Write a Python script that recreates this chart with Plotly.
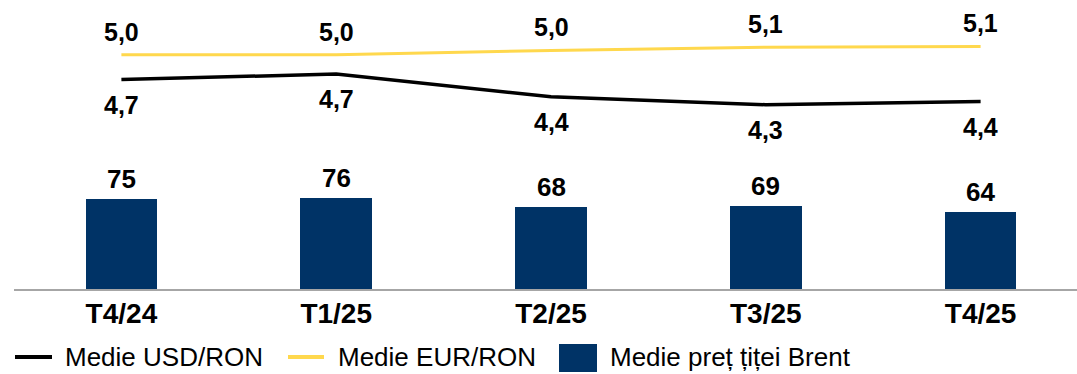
import plotly.graph_objects as go

# Quarterly averages
quarters = ["T4/24", "T1/25", "T2/25", "T3/25", "T4/25"]
brent_price = [75, 76, 68, 69, 64]
usd_ron = [4.66, 4.73, 4.44, 4.34, 4.38]
eur_ron = [4.975, 4.976, 5.03, 5.07, 5.08]
series_names = ["Medie USD/RON", "Medie EUR/RON", "Medie preț țiței Brent"]

W, H = 1077, 374
ML, MR, MT, MB = 14, 0, 0, 85
PW, PH = W - ML - MR, H - MT - MB

FONT = "Liberation Sans, Arial, sans-serif"
NAVY = "#003366"
YELLOW = "#FFD84D"
BLACK = "#000000"


def fmt(v, nd):
    return f"{v:.{nd}f}".replace(".", ",")


def px_x(x):
    return (x - ML) / PW


def px_y(y):
    return (H - MB - y) / PH


fig = go.Figure()

fig.add_trace(go.Bar(
    x=quarters, y=brent_price, name=series_names[2],
    marker=dict(color=NAVY, line=dict(width=0)),
    width=0.334, yaxis="y", showlegend=False,
))
fig.add_trace(go.Scatter(
    x=quarters, y=usd_ron, name=series_names[0], mode="lines",
    line=dict(color=BLACK, width=3.5), yaxis="y2", showlegend=False,
))
fig.add_trace(go.Scatter(
    x=quarters, y=eur_ron, name=series_names[1], mode="lines",
    line=dict(color=YELLOW, width=3), yaxis="y2", showlegend=False,
))

annotations = []
for q, v in zip(quarters, brent_price):
    annotations.append(dict(x=q, y=v, xref="x", yref="y", text=f"<b>{v}</b>",
                            showarrow=False, yanchor="middle", yshift=20,
                            font=dict(family=FONT, size=26, color="#000")))
for q, v in zip(quarters, eur_ron):
    annotations.append(dict(x=q, y=v, xref="x", yref="y2", text=f"<b>{fmt(v, 1)}</b>",
                            showarrow=False, yanchor="middle", yshift=23,
                            font=dict(family=FONT, size=25, color="#000")))
for q, v in zip(quarters, usd_ron):
    annotations.append(dict(x=q, y=v, xref="x", yref="y2", text=f"<b>{fmt(v, 1)}</b>",
                            showarrow=False, yanchor="middle", yshift=-25,
                            font=dict(family=FONT, size=25, color="#000")))

# Legend row
shapes = []
leg_y = 357
shapes.append(dict(type="line", xref="paper", yref="paper",
                   x0=px_x(15), x1=px_x(52), y0=px_y(leg_y), y1=px_y(leg_y),
                   line=dict(color=BLACK, width=4)))
shapes.append(dict(type="line", xref="paper", yref="paper",
                   x0=px_x(288), x1=px_x(324), y0=px_y(leg_y), y1=px_y(leg_y),
                   line=dict(color=YELLOW, width=4)))
shapes.append(dict(type="rect", xref="paper", yref="paper",
                   x0=px_x(559), x1=px_x(597), y0=px_y(372), y1=px_y(344),
                   fillcolor=NAVY, line=dict(width=0)))
for name, x in zip(series_names, [63, 336, 608]):
    annotations.append(dict(x=px_x(x), y=px_y(leg_y), xref="paper", yref="paper",
                            text=name, showarrow=False, xanchor="left", yanchor="middle",
                            font=dict(family=FONT, size=26, color="#000")))

fig.update_layout(
    width=W, height=H,
    margin=dict(l=ML, r=MR, t=MT, b=MB, pad=0),
    paper_bgcolor="white", plot_bgcolor="white",
    showlegend=False,
    bargap=0,
    xaxis=dict(
        type="category", range=[-0.5, -0.5 + PW / 214.8],
        showline=True, linecolor="#A6A6A6", linewidth=2,
        showgrid=False, zeroline=False, ticks="",
        tickfont=dict(family=FONT, size=28, color="#000"),
        tickvals=quarters, ticktext=[f"<b>{q}</b>" for q in quarters],
        ticklabelstandoff=-2,
    ),
    yaxis=dict(range=[0, PH / 1.2], visible=False, showgrid=False, zeroline=False),
    yaxis2=dict(range=[2.0, 5.67], overlaying="y", side="right",
                visible=False, showgrid=False, zeroline=False),
    annotations=annotations,
    shapes=shapes,
)

fig.write_html("out.html")
